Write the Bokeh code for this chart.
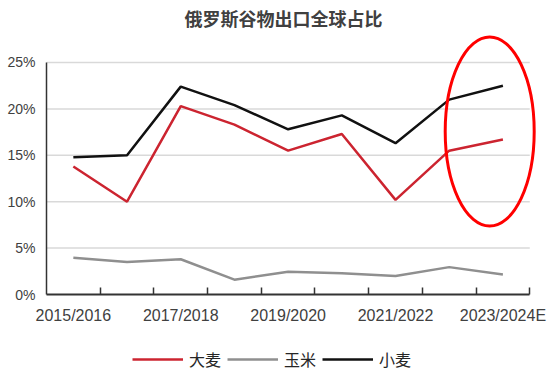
from bokeh.plotting import figure
from bokeh.layouts import column
from bokeh.models import FixedTicker, Legend, LegendItem, Range1d
from bokeh.embed import file_html
from bokeh.resources import INLINE

# ---- data ----
seasons = ["2015/2016", "2016/2017", "2017/2018", "2018/2019", "2019/2020",
           "2020/2021", "2021/2022", "2022/2023", "2023/2024E"]
barley = [13.8, 10.0, 20.3, 18.3, 15.5, 17.3, 10.2, 15.5, 16.7]   # 大麦
corn = [3.95, 3.5, 3.8, 1.6, 2.45, 2.3, 2.0, 2.95, 2.15]          # 玉米
wheat = [14.8, 15.0, 22.4, 20.4, 17.8, 19.3, 16.3, 21.0, 22.5]     # 小麦
series_names = ["大麦", "玉米", "小麦"]
y_ticks = [0, 5, 10, 15, 20, 25]
title_text = "俄罗斯谷物出口全球占比"

colors = ["#cc2430", "#8f8f8f", "#111111"]

n = len(seasons)
xs = [i + 0.5 for i in range(n)]

p = figure(width=554, height=332, output_backend="svg", toolbar_location=None,
           x_range=Range1d(0, 9.2), y_range=Range1d(0, 28.34),
           min_border_left=46, min_border_right=14, min_border_top=31,
           min_border_bottom=38)
p.outline_line_color = None
p.xgrid.visible = False
p.ygrid.visible = False

# title
p.title.text = title_text
p.title.text_font = "Noto Sans CJK SC"
p.title.text_font_size = "18px"
p.title.text_font_style = "bold"
p.title.text_color = "#404040"
p.title.align = "left"
p.title.offset = 138
p.title.standoff = 0
p.title.vertical_align = "middle"

# gridlines (manual, limited to data area)
grid_y = y_ticks[1:]
p.segment(x0=[0] * len(grid_y), x1=[n] * len(grid_y), y0=grid_y, y1=grid_y,
          line_color="#d9d9d9", line_width=1.5)

# y axis
p.yaxis.bounds = (0, y_ticks[-1])
p.yaxis.ticker = FixedTicker(ticks=y_ticks)
p.yaxis.major_label_overrides = {t: f"{t}%" for t in y_ticks}
p.yaxis.major_tick_in = 0
p.yaxis.major_tick_out = 0
p.yaxis.minor_tick_line_color = None
p.yaxis.axis_line_color = "#333333"
p.yaxis.axis_line_width = 1.5
p.yaxis.major_label_text_font = "Liberation Sans"
p.yaxis.major_label_text_font_size = "14px"
p.yaxis.major_label_text_color = "#404040"
p.yaxis.major_label_standoff = 11

# x axis
label_idx = list(range(0, n, 2))
p.xaxis.bounds = (0, n)
p.xaxis.ticker = FixedTicker(ticks=[xs[i] for i in label_idx],
                             minor_ticks=list(range(1, n + 1)))
p.xaxis.major_label_overrides = {xs[i]: seasons[i] for i in label_idx}
p.xaxis.major_tick_in = 0
p.xaxis.major_tick_out = 0
p.xaxis.minor_tick_in = 7
p.xaxis.minor_tick_out = 0
p.xaxis.minor_tick_line_color = "#333333"
p.xaxis.minor_tick_line_width = 1.5
p.xaxis.axis_line_color = "#333333"
p.xaxis.axis_line_width = 2
p.xaxis.major_label_text_font = "Liberation Sans"
p.xaxis.major_label_text_font_size = "16px"
p.xaxis.major_label_text_color = "#404040"
p.xaxis.major_label_standoff = 12

# series
for vals, c in zip([barley, corn, wheat], colors):
    p.line(xs, vals, line_color=c, line_width=2.5)

# highlight ellipse around the forecast
p.ellipse(x=[8.254], y=[17.56], width=[89], height=[189],
          width_units="screen", height_units="screen",
          fill_color=None, line_color="#ff0000", line_width=3)

# ---- legend strip below ----
lg = figure(width=554, height=44, output_backend="svg", toolbar_location=None,
            x_range=Range1d(0, 1), y_range=Range1d(0, 1),
            min_border=0, min_border_left=0, min_border_right=0,
            min_border_top=0, min_border_bottom=0)
lg.axis.visible = False
lg.grid.visible = False
lg.outline_line_color = None
items = []
for name, c in zip(series_names, colors):
    r = lg.line(x=[float("nan")] * 2, y=[float("nan")] * 2,
                line_color=c, line_width=2.5)
    items.append(LegendItem(label=name, renderers=[r]))
legend = Legend(items=items, orientation="horizontal", location=(86, 5),
                glyph_width=51, glyph_height=16, label_standoff=6, spacing=6,
                padding=0, margin=0, border_line_color=None,
                background_fill_alpha=0,
                label_text_font="Noto Sans CJK SC", label_text_font_size="16px",
                label_text_color="#262626")
lg.add_layout(legend, "center")

layout = column(p, lg, spacing=0)
open("out.html", "w").write(file_html(layout, INLINE))
